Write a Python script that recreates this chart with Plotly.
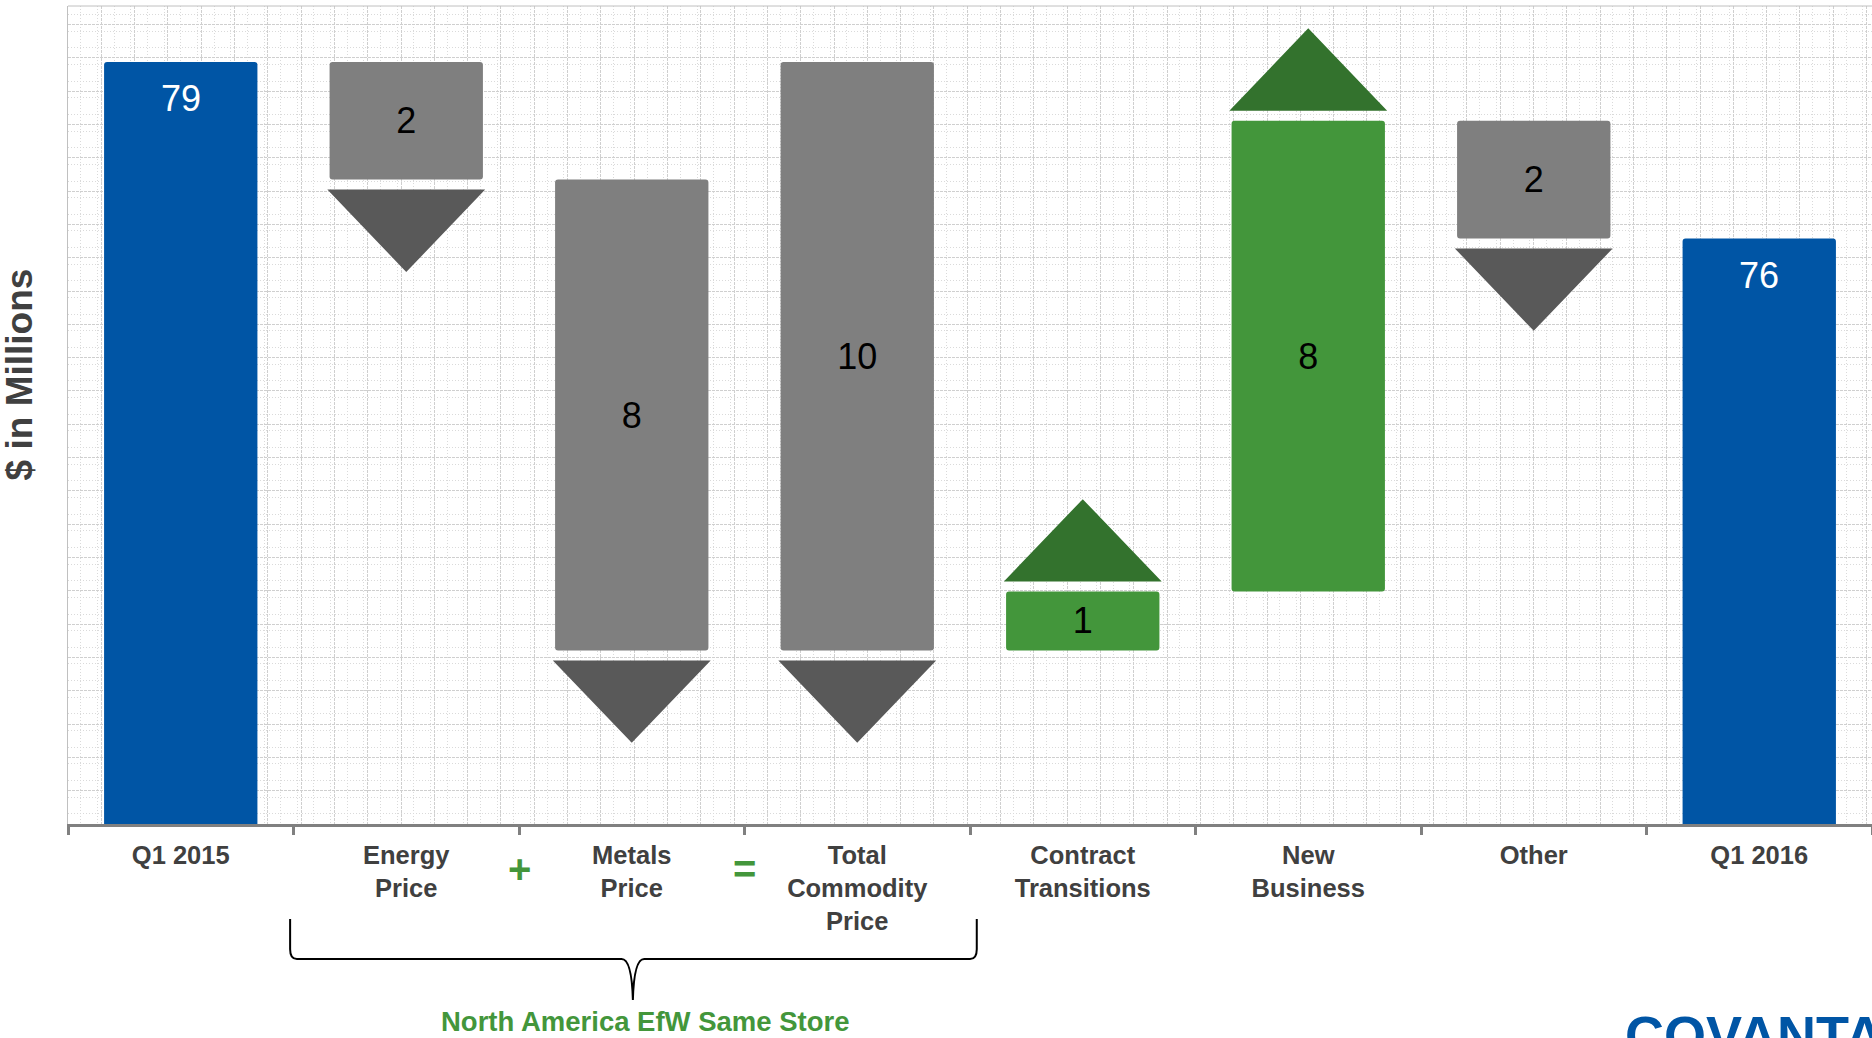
import plotly.graph_objects as go

# ---------------- data ----------------
categories = ["Q1 2015", "Energy<br>Price", "Metals<br>Price", "Total<br>Commodity<br>Price",
              "Contract<br>Transitions", "New<br>Business", "Other", "Q1 2016"]
values = [79, -2, -8, -10, 1, 8, -2, 76]
kinds = ["total", "delta", "delta", "sum", "delta", "delta", "delta", "total"]
sum_first_component = {3: 1}   # Total Commodity = Energy + Metals
bracket_label = "North America EfW Same Store"
operators = [("+", 1.5), ("=", 2.5)]

# ---------------- styles ----------------
BLUE = "#0055A5"
GREY_BOX = "#7F7F7F"
GREY_ARROW = "#595959"
GREEN_BOX = "#43963B"
GREEN_ARROW = "#33722D"
TEXT_DARK = "#404040"
FONT = "Arial, Liberation Sans, sans-serif"
BAR_W = 0.68
ARROW_W = 0.70
ARROW_GAP = 0.17
ARROW_H = 1.40
Y_RANGE = [66.05, 79.95]

# ---------------- waterfall geometry ----------------
level = None
level_before = []
spans = []
for i, (v, k) in enumerate(zip(values, kinds)):
    level_before.append(level)
    if k == "total":
        spans.append((0, v))
        level = v
    elif k == "delta":
        spans.append((min(level, level + v), max(level, level + v)))
        level = level + v
    else:  # sum of previous components
        start = level_before[sum_first_component[i]]
        spans.append((min(start, start + v), max(start, start + v)))

fig = go.Figure()

# totals
tot_idx = [i for i, k in enumerate(kinds) if k == "total"]
fig.add_trace(go.Bar(
    x=[categories[i] for i in tot_idx],
    y=[spans[i][1] - spans[i][0] for i in tot_idx],
    base=[spans[i][0] for i in tot_idx],
    width=BAR_W,
    marker=dict(color=BLUE, cornerradius=3, line=dict(width=0)),
    hoverinfo="skip",
))

# deltas
d_idx = [i for i, k in enumerate(kinds) if k != "total"]
fig.add_trace(go.Bar(
    x=[categories[i] for i in d_idx],
    y=[spans[i][1] - spans[i][0] for i in d_idx],
    base=[spans[i][0] for i in d_idx],
    width=BAR_W,
    marker=dict(color=[GREEN_BOX if values[i] > 0 else GREY_BOX for i in d_idx],
                cornerradius=3, line=dict(width=0)),
    text=[str(abs(values[i])) for i in d_idx],
    textposition="inside", insidetextanchor="middle",
    textfont=dict(family=FONT, size=36, color="black"),
    hoverinfo="skip",
))

# arrows (triangles)
for positive, color in [(False, GREY_ARROW), (True, GREEN_ARROW)]:
    xs, ys = [], []
    for i in d_idx:
        if (values[i] > 0) != positive:
            continue
        lo, hi = spans[i]
        if positive:
            yb = hi + ARROW_GAP
            ya = yb + ARROW_H
        else:
            yb = lo - ARROW_GAP
            ya = yb - ARROW_H
        xs += [i - ARROW_W / 2, i + ARROW_W / 2, i, i - ARROW_W / 2, None]
        ys += [yb, yb, ya, yb, None]
    fig.add_trace(go.Scatter(
        x=xs, y=ys, xaxis="x2", yaxis="y", mode="lines", fill="toself",
        fillcolor=color, line=dict(color=color, width=0), hoverinfo="skip",
    ))

# ---------------- annotations ----------------
annotations = [
    dict(text="$ in Millions", xref="paper", yref="paper", x=-0.027, y=0.55,
         textangle=-90, showarrow=False, xanchor="center", yanchor="middle",
         font=dict(family=FONT, size=37, color=TEXT_DARK, weight="bold")),
    dict(text=bracket_label, xref="x2", yref="paper", x=2.06, y=-0.241,
         showarrow=False, xanchor="center", yanchor="middle",
         font=dict(family=FONT, size=27.5, color=GREEN_BOX, weight="bold")),
    dict(text="COVANTA", xref="paper", yref="paper", x=0.862, y=-0.219,
         showarrow=False, xanchor="left", yanchor="top",
         font=dict(family=FONT, size=54, color=BLUE, weight=900)),
]
# labels of total bars, near the top inside the bar
for i in tot_idx:
    annotations.append(dict(text=str(values[i]), xref="x", yref="y", x=categories[i],
                            y=spans[i][1], yshift=-37, showarrow=False,
                            xanchor="center", yanchor="middle",
                            font=dict(family=FONT, size=36, color="white")))
for sym, xpos in operators:
    annotations.append(dict(text=sym, xref="x2", yref="paper", x=xpos, y=-0.055,
                            showarrow=False, xanchor="center", yanchor="middle",
                            font=dict(family=FONT, size=40, color=GREEN_BOX, weight="bold")))

# curly brace below the commodity group
xl, xc, xr = 0.485, 2.005, 3.53
yt, ym, yb = -0.116, -0.165, -0.215
brace = (f"M {xl},{yt} L {xl},{ym+0.012} Q {xl},{ym} {xl+0.03},{ym} "
         f"L {xc-0.05},{ym} Q {xc-0.005},{ym} {xc},{yb} "
         f"Q {xc+0.005},{ym} {xc+0.05},{ym} "
         f"L {xr-0.03},{ym} Q {xr},{ym} {xr},{ym+0.012} L {xr},{yt}")

shapes = [
    dict(type="path", path=brace, xref="x2", yref="paper",
         line=dict(color="black", width=2)),
    dict(type="line", xref="paper", yref="paper", x0=0, x1=1, y0=1, y1=1,
         line=dict(color="#C0C0C0", width=1)),
]

fig.update_layout(
    width=1872, height=1038,
    margin=dict(l=68, r=0, t=6, b=214),
    plot_bgcolor="white", paper_bgcolor="white",
    barmode="overlay", showlegend=False,
    annotations=annotations, shapes=shapes,
    xaxis=dict(type="category", categoryorder="array", categoryarray=categories,
               range=[-0.5, 7.5], tickson="boundaries", ticks="outside", ticklen=8,
               tickwidth=3, tickcolor="#808080", showline=True, linecolor="#808080",
               linewidth=3, showgrid=False, ticklabelstandoff=6,
               tickfont=dict(family=FONT, size=25.5, color=TEXT_DARK, weight="bold")),
    xaxis2=dict(overlaying="x", range=[-0.5, 7.5], showticklabels=False, ticks="",
                showline=False, zeroline=False, showgrid=True, tick0=-0.5, dtick=0.1477,
                gridcolor="#CFCFCF", gridwidth=1, griddash="3px,1px",
                minor=dict(showgrid=True, dtick=0.07385, gridcolor="#DADADA",
                           griddash="1px,2px", gridwidth=1)),
    yaxis=dict(range=Y_RANGE, showticklabels=False, ticks="", zeroline=False,
               showline=True, linecolor="#C0C0C0", linewidth=1,
               showgrid=True, tick0=Y_RANGE[0], dtick=0.566, gridcolor="#CFCFCF",
               gridwidth=1, griddash="3px,1px",
               minor=dict(showgrid=True, dtick=0.283, gridcolor="#DADADA",
                          griddash="1px,2px", gridwidth=1)),
)

fig.write_html("out.html", config={"displayModeBar": False},
               post_script="document.body.style.margin='0';document.body.style.overflow='hidden';")
